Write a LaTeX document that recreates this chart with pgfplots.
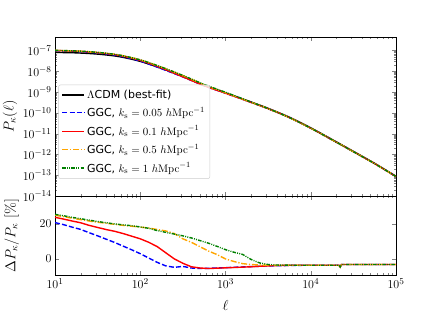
\documentclass[border=0pt]{standalone}
\usepackage[no-math]{fontspec}
\setmainfont{DejaVu Sans}
\usepackage{pgfplots}
\usepackage{pgfplotstable}
\pgfplotsset{compat=1.18}
\definecolor{mplorange}{RGB}{255,165,0}
\definecolor{mplgreen}{RGB}{0,128,0}
\definecolor{mplblue}{RGB}{0,0,255}

\pgfplotstableread{
l lcdm blue red orange green
10 8.13e-8 9.82e-8 1.006e-7 1.016e-7 1.020e-7
17.78 7.76e-8 9.08e-8 9.35e-8 9.53e-8 9.56e-8
31.62 6.76e-8 7.65e-8 7.98e-8 8.18e-8 8.21e-8
56.23 5.13e-8 5.57e-8 5.91e-8 6.13e-8 6.14e-8
100 3.02e-8 3.11e-8 3.37e-8 3.57e-8 3.57e-8
177.8 1.38e-8 1.33e-8 1.45e-8 1.59e-8 1.60e-8
316.2 5.62e-9 5.38e-9 5.46e-9 6.27e-9 6.36e-9
562.3 2.14e-9 2.02e-9 2.03e-9 2.26e-9 2.34e-9
1000 9.33e-10 8.86e-10 8.85e-10 9.33e-10 9.82e-10
1778 3.98e-10 3.80e-10 3.80e-10 3.88e-10 3.98e-10
3162 1.66e-10 1.59e-10 1.59e-10 1.60e-10 1.61e-10
5623 6.17e-11 5.94e-11 5.94e-11 5.95e-11 5.95e-11
10000 1.91e-11 1.84e-11 1.84e-11 1.84e-11 1.84e-11
17783 5.25e-12 5.07e-12 5.07e-12 5.07e-12 5.07e-12
31623 1.41e-12 1.36e-12 1.36e-12 1.36e-12 1.36e-12
56234 3.72e-13 3.60e-13 3.60e-13 3.60e-13 3.60e-13
100000 8.91e-14 8.62e-14 8.62e-14 8.62e-14 8.62e-14
}\toptable

\pgfplotstableread{
l blue red orange green
10 20.8 23.8 25.0 25.5
12.59 19.6 22.8 24.2 24.7
15.85 18.2 21.7 23.3 23.8
19.95 16.9 20.7 22.5 23.0
25.12 15.0 19.2 21.7 22.2
31.62 13.2 18.0 21.0 21.4
39.81 11.3 16.8 20.4 20.7
50.12 9.4 15.8 19.8 20.0
63.10 7.3 14.5 19.2 19.5
79.43 5.2 13.0 18.7 19.0
100 3.0 11.5 18.2 18.3
125.9 0.5 9.5 17.7 17.5
158.5 -2.0 7.0 16.8 16.2
199.5 -4.0 3.5 16.0 15.2
251.2 -4.8 0.0 14.5 14.2
316.2 -4.3 -2.5 11.5 13.2
398.1 -5.2 -4.5 9.5 12.0
501.2 -5.5 -5.2 7.0 10.5
631.0 -5.4 -5.5 4.5 9.0
794.3 -5.2 -5.3 2.5 7.2
1000 -5.0 -5.1 0.0 5.3
1259 -4.8 -4.9 -1.5 3.8
1585 -4.6 -4.7 -2.7 2.6
1995 -4.4 -4.5 -3.2 -0.3
2512 -4.2 -4.2 -3.5 -2.3
3162 -4.0 -4.0 -3.6 -3.2
3981 -3.9 -3.8 -3.6 -3.5
6310 -3.7 -3.6 -3.6 -3.6
10000 -3.6 -3.6 -3.6 -3.6
15849 -3.6 -3.6 -3.6 -3.6
21380 -3.6 -3.6 -3.6 -3.6
22130 -4.6 -4.6 -4.6 -4.6
22909 -3.2 -3.2 -3.2 -3.2
31623 -3.2 -3.2 -3.2 -3.2
100000 -3.2 -3.2 -3.2 -3.2
}\bottable

\begin{document}
\begin{tikzpicture}
\useasboundingbox (0,0) rectangle (440pt,315pt);
\begin{axis}[
  scale only axis, width=341pt, height=79pt,
  xmode=log, xmin=10, xmax=100000,
  tick align=inside, tick pos=both,
  major tick length=4pt, minor tick length=2pt,
  tick label style={font=\fontsize{13}{15}\selectfont},
  label style={font=\fontsize{14.5}{17}\selectfont},
  at={(55pt,40pt)}, anchor=south west,
  ymin=-9.2, ymax=36, ytick={0,20},
  xlabel={$\ell$},
  xlabel style={at={(axis description cs:0.5,-0.39)}, anchor=center},
  ylabel={$\Delta P_\kappa/P_\kappa\ [\%]$},
  ylabel style={at={(axis description cs:-0.127,0.5)}, anchor=center},
]
\addplot[color=mplblue, line width=1.4pt, dash pattern=on 5pt off 2.2pt, no markers] table[x=l, y=blue] {\bottable};
\addplot[color=red, line width=1.4pt, no markers] table[x=l, y=red] {\bottable};
\addplot[color=mplorange, line width=1.4pt, dash pattern=on 6pt off 1.8pt on 1.2pt off 1.8pt, no markers] table[x=l, y=orange] {\bottable};
\addplot[color=mplgreen, line width=1.4pt, dash pattern=on 3.5pt off 1.2pt on 1pt off 1.2pt on 1pt off 1.2pt, no markers] table[x=l, y=green] {\bottable};
\end{axis}

\begin{axis}[
  scale only axis, width=341pt, height=159pt,
  xmode=log, xmin=10, xmax=100000,
  tick align=inside, tick pos=both,
  major tick length=4pt, minor tick length=2pt,
  tick label style={font=\fontsize{13}{15}\selectfont},
  label style={font=\fontsize{14.5}{17}\selectfont},
  at={(55pt,119pt)}, anchor=south west,
  ymode=log, ymin=1e-14, ymax=4.5e-7,
  ytickten={-14,...,-7},
  xticklabels={},
  ylabel={$P_\kappa(\ell)$},
  ylabel style={at={(axis description cs:-0.132,0.5)}, anchor=center},
  legend cell align=left,
  legend style={at={(axis description cs:0.01,0.70)}, anchor=north west,
    font=\fontsize{11}{13}\selectfont, draw=black!20, rounded corners=2pt,
    fill=white, fill opacity=0.8, text opacity=1, row sep=3.5pt,
    inner xsep=3pt, inner ysep=3pt},
  legend image code/.code={\draw[#1] (0pt,0pt) -- (22pt,0pt);},
]
\addplot[color=black, line width=1.4pt, smooth, no markers] table[x=l, y=lcdm] {\toptable};
\addlegendentry{$\Lambda$CDM (best-fit)}
\addplot[color=mplblue, line width=1.4pt, dash pattern=on 5pt off 2.2pt, smooth, no markers] table[x=l, y=blue] {\toptable};
\addlegendentry{GGC, $k_{\mathrm{s}}=0.05\ h\mathrm{Mpc}^{-1}$}
\addplot[color=red, line width=1.4pt, smooth, no markers] table[x=l, y=red] {\toptable};
\addlegendentry{GGC, $k_{\mathrm{s}}=0.1\ h\mathrm{Mpc}^{-1}$}
\addplot[color=mplorange, line width=1.4pt, dash pattern=on 6pt off 1.8pt on 1.2pt off 1.8pt, smooth, no markers] table[x=l, y=orange] {\toptable};
\addlegendentry{GGC, $k_{\mathrm{s}}=0.5\ h\mathrm{Mpc}^{-1}$}
\addplot[color=mplgreen, line width=1.4pt, dash pattern=on 3.5pt off 1.2pt on 1pt off 1.2pt on 1pt off 1.2pt, smooth, no markers] table[x=l, y=green] {\toptable};
\addlegendentry{GGC, $k_{\mathrm{s}}=1\ h\mathrm{Mpc}^{-1}$}
\end{axis}
\end{tikzpicture}
\end{document}
